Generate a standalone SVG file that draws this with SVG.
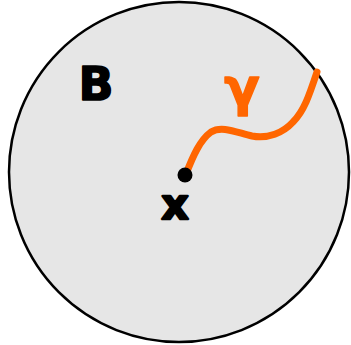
<svg xmlns="http://www.w3.org/2000/svg" width="351" height="345" viewBox="0 0 351 345">
<style>
.lbl{font-family:"DejaVu Sans","Liberation Sans",sans-serif;font-weight:bold;fill:#000;stroke:#000;stroke-linejoin:round}
</style>
<rect width="351" height="345" fill="#fff"/>
<g id="ball">
<circle cx="179" cy="172" r="170" fill="#e6e6e6" stroke="#000" stroke-width="2.5"/>
</g>
<g id="connectors">
<path d="M186,174 C193,156 200,140 211,132 C222,125 238,133 252,136 C268,139 283,133 293,122 C304,111 309,96 317,72" fill="none" stroke="#ff6600" stroke-width="7" stroke-linecap="round"/>
</g>
<g id="point">
<circle cx="185" cy="175" r="7.5" fill="#000"/>
</g>
<g id="labels">
<text class="lbl" x="96" y="100" font-size="46" stroke-width="1.5" text-anchor="middle">B</text>
<text class="lbl" x="242" y="105" font-size="52" stroke-width="1.5" style="fill:#ff6600;stroke:#ff6600" text-anchor="middle">γ</text>
<text class="lbl" x="175" y="219" font-size="42" stroke-width="2.5" text-anchor="middle">x</text>
</g>
</svg>
